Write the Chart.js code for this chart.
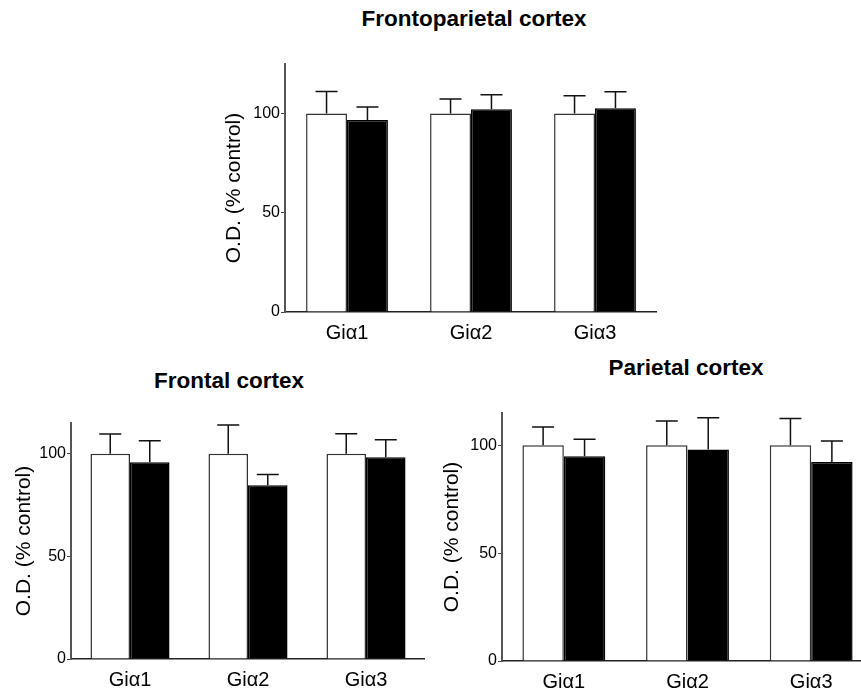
<!DOCTYPE html>
<html>
<head>
<meta charset="utf-8">
<script src="https://cdn.jsdelivr.net/npm/chart.js@4.4.0/dist/chart.umd.min.js"></script>
<style>
  html, body { margin: 0; padding: 0; background: #fff; overflow: hidden; }
  body { width: 861px; height: 693px; position: relative; }
  canvas { position: absolute; }
  .title {
    position: absolute;
    font: bold 22.5px "Liberation Sans", Arial, sans-serif;
    transform: translate(-50%, -50%);
    white-space: nowrap;
  }
</style>
</head>
<body>
<div class="title" style="left:474px; top:19px">Frontoparietal cortex</div>
<div class="title" style="left:229px; top:381px">Frontal cortex</div>
<div class="title" style="left:686px; top:368px">Parietal cortex</div>

<canvas id="fp" width="435" height="300" style="left:222px; top:52px"></canvas>
<canvas id="fr" width="413" height="288" style="left:12px; top:411px"></canvas>
<canvas id="pa" width="433" height="300" style="left:440px; top:401px"></canvas>

<script>
const categories = ["Gi\u03b11", "Gi\u03b12", "Gi\u03b13"];
const yTicks = [0, 50, 100];

// frontoparietal cortex
const fpControl = [100, 100, 100];
const fpTreated = [96.8, 102.2, 102.7];
const fpControlErr = [11.2, 7.3, 9.0];
const fpTreatedErr = [6.5, 7.3, 8.3];

// frontal cortex
const frControl = [100, 100, 100];
const frTreated = [95.9, 84.7, 98.3];
const frControlErr = [9.6, 14.0, 9.8];
const frTreatedErr = [10.4, 5.2, 8.5];

// parietal cortex
const paControl = [100, 100, 100];
const paTreated = [94.9, 98.1, 92.3];
const paControlErr = [8.5, 11.3, 12.4];
const paTreatedErr = [7.9, 14.7, 9.7];

const FONT = "'Liberation Sans', Arial, sans-serif";

// upper error bars only, like the original figure
const errorBars = {
  id: "errorBars",
  afterDatasetsDraw(chart) {
    const ctx = chart.ctx;
    const y = chart.scales.y;
    ctx.save();
    ctx.strokeStyle = "#111";
    ctx.lineWidth = 1.5;
    chart.data.datasets.forEach((ds, i) => {
      chart.getDatasetMeta(i).data.forEach((bar, j) => {
        const top = y.getPixelForValue(ds.data[j] + ds.errors[j]);
        ctx.beginPath();
        ctx.moveTo(bar.x, bar.y);
        ctx.lineTo(bar.x, top);
        ctx.moveTo(bar.x - 11, top);
        ctx.lineTo(bar.x + 11, top);
        ctx.stroke();
      });
    });
    ctx.restore();
  }
};

function drawPanel(id, control, treated, controlErr, treatedErr, yMax, yWidth, catPct) {
  const ctx = document.getElementById(id).getContext("2d");
  new Chart(ctx, {
    type: "bar",
    data: {
      labels: categories,
      datasets: [
        {
          label: "Control",
          data: control,
          errors: controlErr,
          backgroundColor: "#fff",
          borderColor: "#333",
          borderWidth: 1.5
        },
        {
          label: "Treated",
          data: treated,
          errors: treatedErr,
          backgroundColor: "#000",
          borderColor: "#000",
          borderWidth: 1.5
        }
      ]
    },
    options: {
      responsive: false,
      animation: false,
      layout: { padding: { top: 12, left: 0, right: 0, bottom: 0 } },
      datasets: { bar: { barPercentage: 1, categoryPercentage: catPct } },
      plugins: { legend: { display: false }, tooltip: { enabled: false } },
      scales: {
        x: {
          grid: { display: false, drawTicks: false },
          border: { color: "#222", width: 1.5 },
          ticks: { color: "#000", padding: 9, font: { family: FONT, size: 20 } },
          afterFit: (s) => { s.height = 40; }
        },
        y: {
          min: 0,
          max: yMax,
          afterBuildTicks: (s) => { s.ticks = yTicks.map((v) => ({ value: v })); },
          grid: { drawOnChartArea: false, drawTicks: true, tickLength: 4, tickColor: "#444" },
          border: { color: "#555", width: 2 },
          ticks: { color: "#000", padding: 1, font: { family: FONT, size: 16 } },
          title: {
            display: true,
            text: "O.D. (% control)",
            color: "#000",
            padding: 0,
            font: { family: FONT, size: 21 }
          },
          afterFit: (s) => { s.width = yWidth; }
        }
      }
    },
    plugins: [errorBars]
  });
}

drawPanel("fp", fpControl, fpTreated, fpControlErr, fpTreatedErr, 125, 63, 0.66);
drawPanel("fr", frControl, frTreated, frControlErr, frTreatedErr, 115, 59, 0.67);
drawPanel("pa", paControl, paTreated, paControlErr, paTreatedErr, 115, 62, 0.67);
</script>
</body>
</html>
